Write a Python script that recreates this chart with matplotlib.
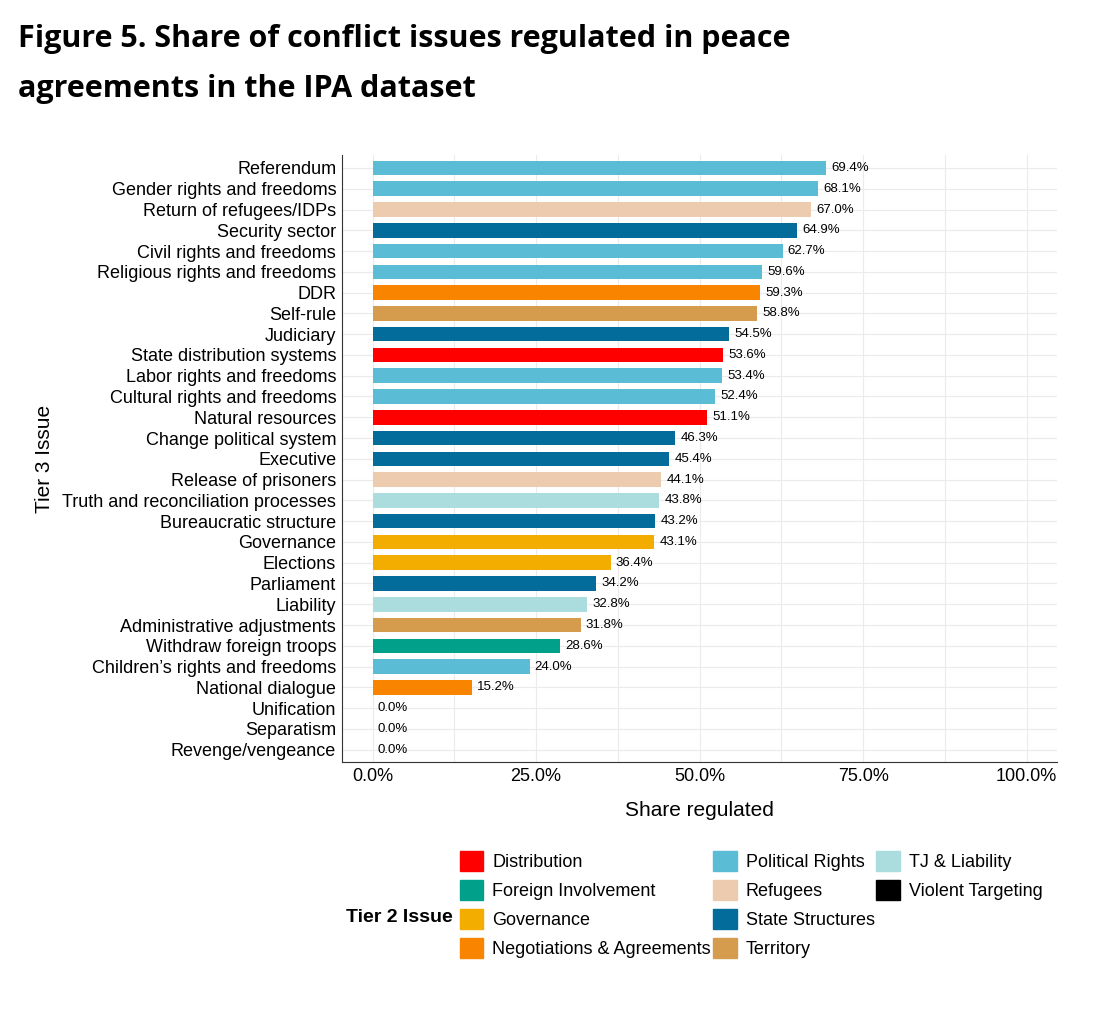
import matplotlib
matplotlib.use("Agg")
import matplotlib.pyplot as plt
from matplotlib.patches import Patch

issues = ["Referendum","Gender rights and freedoms","Return of refugees/IDPs","Security sector",
"Civil rights and freedoms","Religious rights and freedoms","DDR","Self-rule","Judiciary",
"State distribution systems","Labor rights and freedoms","Cultural rights and freedoms",
"Natural resources","Change political system","Executive","Release of prisoners",
"Truth and reconciliation processes","Bureaucratic structure","Governance","Elections",
"Parliament","Liability","Administrative adjustments","Withdraw foreign troops",
"Children’s rights and freedoms","National dialogue","Unification","Separatism","Revenge/vengeance"]
shares = [69.4,68.1,67.0,64.9,62.7,59.6,59.3,58.8,54.5,53.6,53.4,52.4,51.1,46.3,45.4,44.1,43.8,
43.2,43.1,36.4,34.2,32.8,31.8,28.6,24.0,15.2,0.0,0.0,0.0]
tier2 = ["Political Rights","Political Rights","Refugees","State Structures","Political Rights",
"Political Rights","Negotiations & Agreements","Territory","State Structures","Distribution",
"Political Rights","Political Rights","Distribution","State Structures","State Structures",
"Refugees","TJ & Liability","State Structures","Governance","Governance","State Structures",
"TJ & Liability","Territory","Foreign Involvement","Political Rights","Negotiations & Agreements",
"Territory","Territory","Violent Targeting"]
legend_cols = [["Distribution","Foreign Involvement","Governance","Negotiations & Agreements"],
["Political Rights","Refugees","State Structures","Territory"],
["TJ & Liability","Violent Targeting"]]
colors = {"Distribution":"#FF0000","Foreign Involvement":"#00A08A","Governance":"#F2AD00",
"Negotiations & Agreements":"#F98400","Political Rights":"#5BBCD6","Refugees":"#ECCBAE",
"State Structures":"#046C9A","Territory":"#D69C4E","TJ & Liability":"#ABDDDE","Violent Targeting":"#000000"}

plt.rcParams['font.family'] = ['Liberation Sans','DejaVu Sans']
fig = plt.figure(figsize=(11.17,10.23), dpi=100)
ax = fig.add_axes([0.306,0.255,0.640,0.593])
n = len(issues)
ypos = list(range(n))[::-1]
ax.barh(ypos, shares, height=0.7, color=[colors[t] for t in tier2], zorder=2)
for y, v in zip(ypos, shares):
    ax.text(v+0.8, y, f"{v:.1f}%", va='center', ha='left', fontsize=9.5)
ax.set_yticks(ypos)
ax.set_yticklabels(issues, fontsize=13)
ax.set_xlim(-4.7,104.6)
ax.set_ylim(-0.6, n-0.4)
ax.set_xticks([0,25,50,75,100])
ax.set_xticklabels(["0.0%","25.0%","50.0%","75.0%","100.0%"], fontsize=13)
ax.set_xticks([12.5,37.5,62.5,87.5], minor=True)
ax.grid(True, which='both', axis='x', color='#EBEBEB', lw=0.8, zorder=0)
ax.grid(True, which='major', axis='y', color='#EBEBEB', lw=0.8, zorder=0)
ax.tick_params(length=0, which='both', pad=4)
for s in ['top','right']:
    ax.spines[s].set_visible(False)
for s in ['left','bottom']:
    ax.spines[s].set_color('#333333')
ax.set_xlabel("Share regulated", fontsize=15, labelpad=12)
ax.set_ylabel("Tier 3 Issue", fontsize=15, labelpad=6)

fig.text(0.016, 0.962, "Figure 5. Share of conflict issues regulated in peace", fontsize=22,
         fontweight='bold', family='Open Sans', va='center')
fig.text(0.016, 0.913, "agreements in the IPA dataset", fontsize=22,
         fontweight='bold', family='Open Sans', va='center')

xs = [0.405, 0.632, 0.778]
for x, col in zip(xs, legend_cols):
    handles = [Patch(color=colors[k], label=k) for k in col]
    fig.legend(handles=handles, ncol=1, loc='upper left', bbox_to_anchor=(x,0.175),
               frameon=False, fontsize=13, handlelength=1.3, handleheight=1.3,
               labelspacing=0.5, handletextpad=0.5, borderaxespad=0)
fig.text(0.31, 0.103, "Tier 2 Issue", fontsize=14, fontweight='bold', va='center')
fig.savefig("out.png", dpi=100)
